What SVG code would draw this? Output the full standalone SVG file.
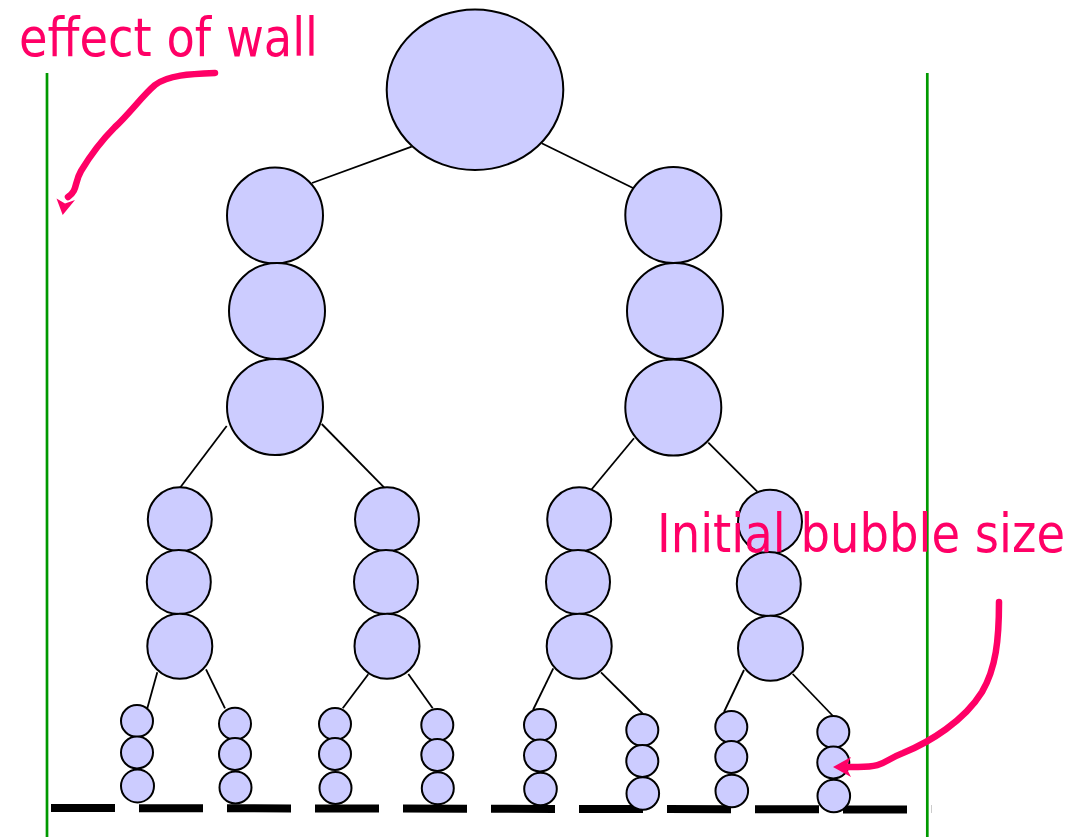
<svg xmlns="http://www.w3.org/2000/svg" width="1086" height="837" viewBox="0 0 1086 837">
<style>
.b{fill:#CCCCFF;stroke:#000;stroke-width:2}
.c{stroke:#000;stroke-width:1.8;fill:none}
.w{stroke:#009900;stroke-width:2.7}
.lbl{font-family:"DejaVu Sans","Verdana",sans-serif;fill:#FF0066;font-size:54px}
.pk{stroke:#FF0066;stroke-width:6.5;fill:none;stroke-linecap:round;stroke-linejoin:round}
.pkh{fill:#FF0066}
</style>
<rect width="1086" height="837" fill="#fff"/>
<g id="walls">
<line class="w" x1="47" y1="73" x2="47" y2="837"/>
<line class="w" x1="927.3" y1="73" x2="927.3" y2="837"/>
</g>
<g id="floor">
<line x1="51" y1="808" x2="907" y2="809.5" stroke="#000" stroke-width="8" stroke-dasharray="64 24"/>
<line x1="931.5" y1="805" x2="931.5" y2="813" stroke="#ccc" stroke-width="1"/>
</g>
<g id="connectors">
<line class="c" x1="411.7" y1="146.7" x2="312" y2="183"/>
<line class="c" x1="541.7" y1="143.3" x2="633" y2="188"/>
<line class="c" x1="226.7" y1="426" x2="180" y2="487.7"/>
<line class="c" x1="321.7" y1="424" x2="385" y2="488.3"/>
<line class="c" x1="634" y1="438.3" x2="591.7" y2="489.3"/>
<line class="c" x1="708.3" y1="442.7" x2="757.3" y2="491.7"/>
<line class="c" x1="157.3" y1="672.3" x2="147.3" y2="708.3"/>
<line class="c" x1="206" y1="669.3" x2="225" y2="708.3"/>
<line class="c" x1="368.3" y1="674.3" x2="342.7" y2="708.3"/>
<line class="c" x1="408.3" y1="674" x2="432.7" y2="708.3"/>
<line class="c" x1="553.3" y1="668.3" x2="533" y2="710"/>
<line class="c" x1="601" y1="672.3" x2="643" y2="714"/>
<line class="c" x1="744" y1="670" x2="724" y2="712"/>
<line class="c" x1="792.7" y1="674" x2="833" y2="716"/>
</g>
<g id="root"><ellipse class="b" cx="475" cy="89.7" rx="88.3" ry="80.3"/></g>
<g id="L1a">
<circle class="b" cx="275" cy="215.5" r="48"/>
<circle class="b" cx="277" cy="311" r="48"/>
<circle class="b" cx="275" cy="407" r="48"/>
</g>
<g id="L1b">
<circle class="b" cx="673.3" cy="215" r="48"/>
<circle class="b" cx="675" cy="311" r="48"/>
<circle class="b" cx="673.3" cy="407.5" r="48"/>
</g>
<g id="L2a">
<circle class="b" cx="179.8" cy="519.3" r="32"/>
<circle class="b" cx="178.8" cy="582" r="32"/>
<circle class="b" cx="179.8" cy="646.3" r="32.5"/>
</g>
<g id="L2b">
<circle class="b" cx="387" cy="519.3" r="32"/>
<circle class="b" cx="386" cy="582" r="32"/>
<circle class="b" cx="387" cy="646.3" r="32.5"/>
</g>
<g id="L2c">
<circle class="b" cx="579.2" cy="519.3" r="32"/>
<circle class="b" cx="578" cy="582" r="32"/>
<circle class="b" cx="579.2" cy="646.3" r="32.5"/>
</g>
<g id="L2d">
<circle class="b" cx="770" cy="521.7" r="32"/>
<circle class="b" cx="768.8" cy="584" r="32"/>
<circle class="b" cx="770.5" cy="648.3" r="32.5"/>
</g>
<g id="L3a">
<circle class="b" cx="137" cy="721" r="16"/>
<circle class="b" cx="137" cy="752.5" r="16"/>
<circle class="b" cx="137.5" cy="786" r="16.5"/>
</g>
<g id="L3b">
<circle class="b" cx="235" cy="723.7" r="16"/>
<circle class="b" cx="235" cy="754" r="16"/>
<circle class="b" cx="235.5" cy="787.5" r="16"/>
</g>
<g id="L3c">
<circle class="b" cx="335" cy="724" r="16"/>
<circle class="b" cx="335" cy="754" r="16"/>
<circle class="b" cx="335.5" cy="788" r="16"/>
</g>
<g id="L3d">
<circle class="b" cx="437.3" cy="725" r="16"/>
<circle class="b" cx="437.3" cy="755" r="16"/>
<circle class="b" cx="437.8" cy="788.3" r="16"/>
</g>
<g id="L3e">
<circle class="b" cx="540" cy="725" r="16"/>
<circle class="b" cx="540" cy="755.5" r="16"/>
<circle class="b" cx="540.5" cy="789" r="16.3"/>
</g>
<g id="L3f">
<circle class="b" cx="642.3" cy="730" r="16"/>
<circle class="b" cx="642.3" cy="761" r="16"/>
<circle class="b" cx="642.8" cy="793.5" r="16.3"/>
</g>
<g id="L3g">
<circle class="b" cx="731.3" cy="727" r="16"/>
<circle class="b" cx="731.3" cy="757" r="16"/>
<circle class="b" cx="731.8" cy="791" r="16.3"/>
</g>
<g id="L3h">
<circle class="b" cx="833.3" cy="732" r="16"/>
<circle class="b" cx="833.3" cy="762.5" r="16"/>
<circle class="b" cx="833.8" cy="796" r="16.3"/>
</g>
<g id="label-wall">
<text class="lbl" x="19" y="56" textLength="299" lengthAdjust="spacingAndGlyphs">effect of wall</text>
<path class="pk" d="M215,73 C190,74 168,75 155,85 C143,95 130,113 115,127 C103,139 90,156 81,171 C74,183 78,190 68,197"/>
<polygon class="pkh" points="62.7,215 56.5,198.5 65,203.5 75,200"/>
</g>
<g id="label-size">
<text class="lbl" x="657" y="552" textLength="408" lengthAdjust="spacingAndGlyphs">Initial bubble size</text>
<path class="pk" d="M999,602 C999,640 996,668 982,692 C964,721 930,742 903,753 C882,761 886,767 858,767 L846,767"/>
<polygon class="pkh" points="833,767 851,757 846,767 851,777"/>
</g>
</svg>
